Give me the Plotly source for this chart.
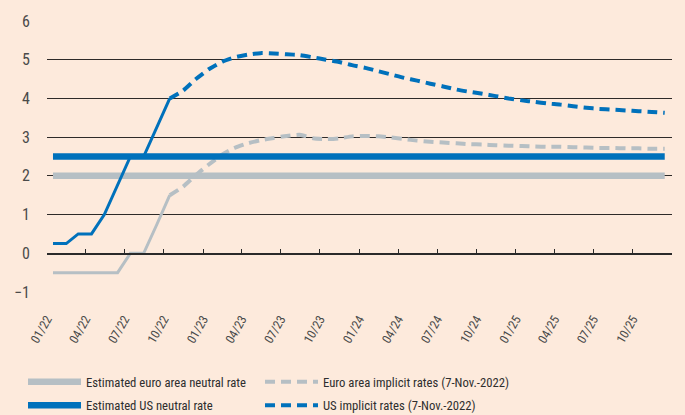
import plotly.graph_objects as go

# Monthly observation dates (mid-month), Jan 2022 - Dec 2025
months = [f"{y}-{m:02d}-15" for y in range(2022, 2026) for m in range(1, 13)]

# Policy rates observed until Oct 2022
us_actual = [0.25, 0.25, 0.5, 0.5, 1.0, 1.75, 2.5, 2.5, 3.25, 4.0]
ea_actual = [-0.5, -0.5, -0.5, -0.5, -0.5, -0.5, 0.0, 0.0, 0.75, 1.5]

# Market-implied paths from Oct 2022 onwards (7-Nov-2022)
us_implicit = [4.0, 4.2, 4.5, 4.76, 4.95, 5.06, 5.13, 5.17, 5.16, 5.14,
               5.12, 5.06, 5.0, 4.94, 4.86, 4.79, 4.70, 4.62, 4.53, 4.46,
               4.38, 4.31, 4.23, 4.17, 4.12, 4.06, 4.0, 3.95, 3.91, 3.87,
               3.84, 3.80, 3.76, 3.73, 3.71, 3.69, 3.67, 3.65, 3.63]
ea_implicit = [1.5, 1.72, 2.02, 2.3, 2.55, 2.72, 2.84, 2.92, 2.98, 3.03,
               3.06, 2.97, 2.95, 2.97, 3.02, 3.03, 3.02, 2.99, 2.95, 2.91,
               2.88, 2.86, 2.84, 2.82, 2.81, 2.79, 2.78, 2.77, 2.76, 2.75,
               2.75, 2.74, 2.73, 2.72, 2.72, 2.71, 2.71, 2.70, 2.70]

# Estimated neutral rates
ea_neutral = 2.0
us_neutral = 2.5

# Axis ticks
y_min, y_max = -1, 6
y_ticks = [-1, 0, 1, 2, 3, 4, 5, 6]
x_ticks = [f"{y}-{m:02d}-01" for y in range(2022, 2026) for m in (1, 4, 7, 10)] + ["2026-01-01"]
x_ticktext = [f"{m:02d}/{str(y)[2:]}" for y in range(2022, 2026) for m in (1, 4, 7, 10)] + [""]

BLUE = "#0071bb"
GREY = "#b6bfc4"
BG = "#fdeadc"
FONT = "Liberation Sans Narrow, Roboto Condensed, DejaVu Sans Condensed, sans-serif"

n_act = len(us_actual)
implicit_dates = months[n_act - 1:]

fig = go.Figure()

fig.add_trace(go.Scatter(
    x=months, y=[ea_neutral] * len(months), mode="lines",
    line=dict(color=GREY, width=6.5), name="Estimated euro area neutral rate",
    legend="legend", legendgroup="a", legendrank=1))
fig.add_trace(go.Scatter(
    x=implicit_dates, y=ea_implicit, mode="lines",
    line=dict(color=GREY, width=4, dash="10px,6px", shape="spline", smoothing=0.6),
    name="Euro area implicit rates (7-Nov.-2022)",
    legend="legend2", legendgroup="c", legendrank=1))
fig.add_trace(go.Scatter(
    x=months[:n_act], y=ea_actual, mode="lines",
    line=dict(color=GREY, width=3), showlegend=False))
fig.add_trace(go.Scatter(
    x=months[:n_act], y=us_actual, mode="lines",
    line=dict(color=BLUE, width=3), showlegend=False))
fig.add_trace(go.Scatter(
    x=implicit_dates, y=us_implicit, mode="lines",
    line=dict(color=BLUE, width=4, dash="10px,6px", shape="spline", smoothing=0.6),
    name="US implicit rates (7-Nov.-2022)",
    legend="legend2", legendgroup="d", legendrank=2))
# US neutral rate lives on the upper (0..6) subplot whose bottom edge is the zero line
fig.add_trace(go.Scatter(
    x=months, y=[us_neutral] * len(months), mode="lines", xaxis="x2", yaxis="y2",
    line=dict(color=BLUE, width=6.5), name="Estimated US neutral rate",
    legend="legend", legendgroup="b", legendrank=2))

x_range = [x_ticks[0], x_ticks[-1]]
zero_frac = (0 - y_min) / (y_max - y_min)

PLOT_L, PLOT_W, PLOT_B, PLOT_H = 47, 625, 292, 271

legend_style = dict(
    orientation="v", yanchor="top", xanchor="left", bgcolor="rgba(0,0,0,0)",
    font=dict(family=FONT, size=12.7, color="#2e2e2e"),
    itemwidth=53, tracegroupgap=4, traceorder="grouped",
)

fig.update_layout(
    width=685, height=415,
    margin=dict(l=PLOT_L, r=685 - PLOT_L - PLOT_W, t=PLOT_B - PLOT_H, b=415 - PLOT_B,
                autoexpand=False),
    paper_bgcolor=BG, plot_bgcolor="rgba(0,0,0,0)",
    font=dict(family=FONT, color="#4a4a4a"),
    showlegend=True,
    legend=dict(**legend_style, x=(23 - PLOT_L) / PLOT_W, y=(PLOT_B - 367) / PLOT_H),
    legend2=dict(**legend_style, x=(260 - PLOT_L) / PLOT_W, y=(PLOT_B - 367) / PLOT_H),
    # date labels along the bottom edge
    xaxis=dict(
        type="date", range=x_range, tickvals=x_ticks, ticktext=x_ticktext,
        anchor="y", side="bottom",
        tickangle=-60, showgrid=False, zeroline=False, showline=False,
        ticks="outside", ticklen=14, tickcolor="rgba(0,0,0,0)", automargin=False,
        tickfont=dict(family=FONT, size=12.5, color="#4a4a4a"),
    ),
    yaxis=dict(
        range=[y_min, y_max], tickvals=y_ticks, showgrid=True,
        gridcolor="#2e2a28", gridwidth=1, zeroline=False, showline=False,
        ticks="outside", ticklen=13, tickcolor="rgba(0,0,0,0)", automargin=False,
        tickfont=dict(family=FONT, size=16, color="#4a4a4a"),
    ),
    # zero line with quarterly tick marks
    xaxis2=dict(
        type="date", range=x_range, tickvals=x_ticks, matches="x",
        anchor="y2", side="bottom",
        showline=True, linecolor="#2a2a2a", linewidth=1.5,
        ticks="inside", ticklen=5, tickwidth=1.2, tickcolor="#2a2a2a",
        showticklabels=False, showgrid=False, zeroline=False, automargin=False,
    ),
    yaxis2=dict(
        domain=[zero_frac, 1], range=[0, y_max], anchor="x2",
        visible=False, showgrid=False, zeroline=False, automargin=False,
    ),
)

fig.write_html("out.html")
